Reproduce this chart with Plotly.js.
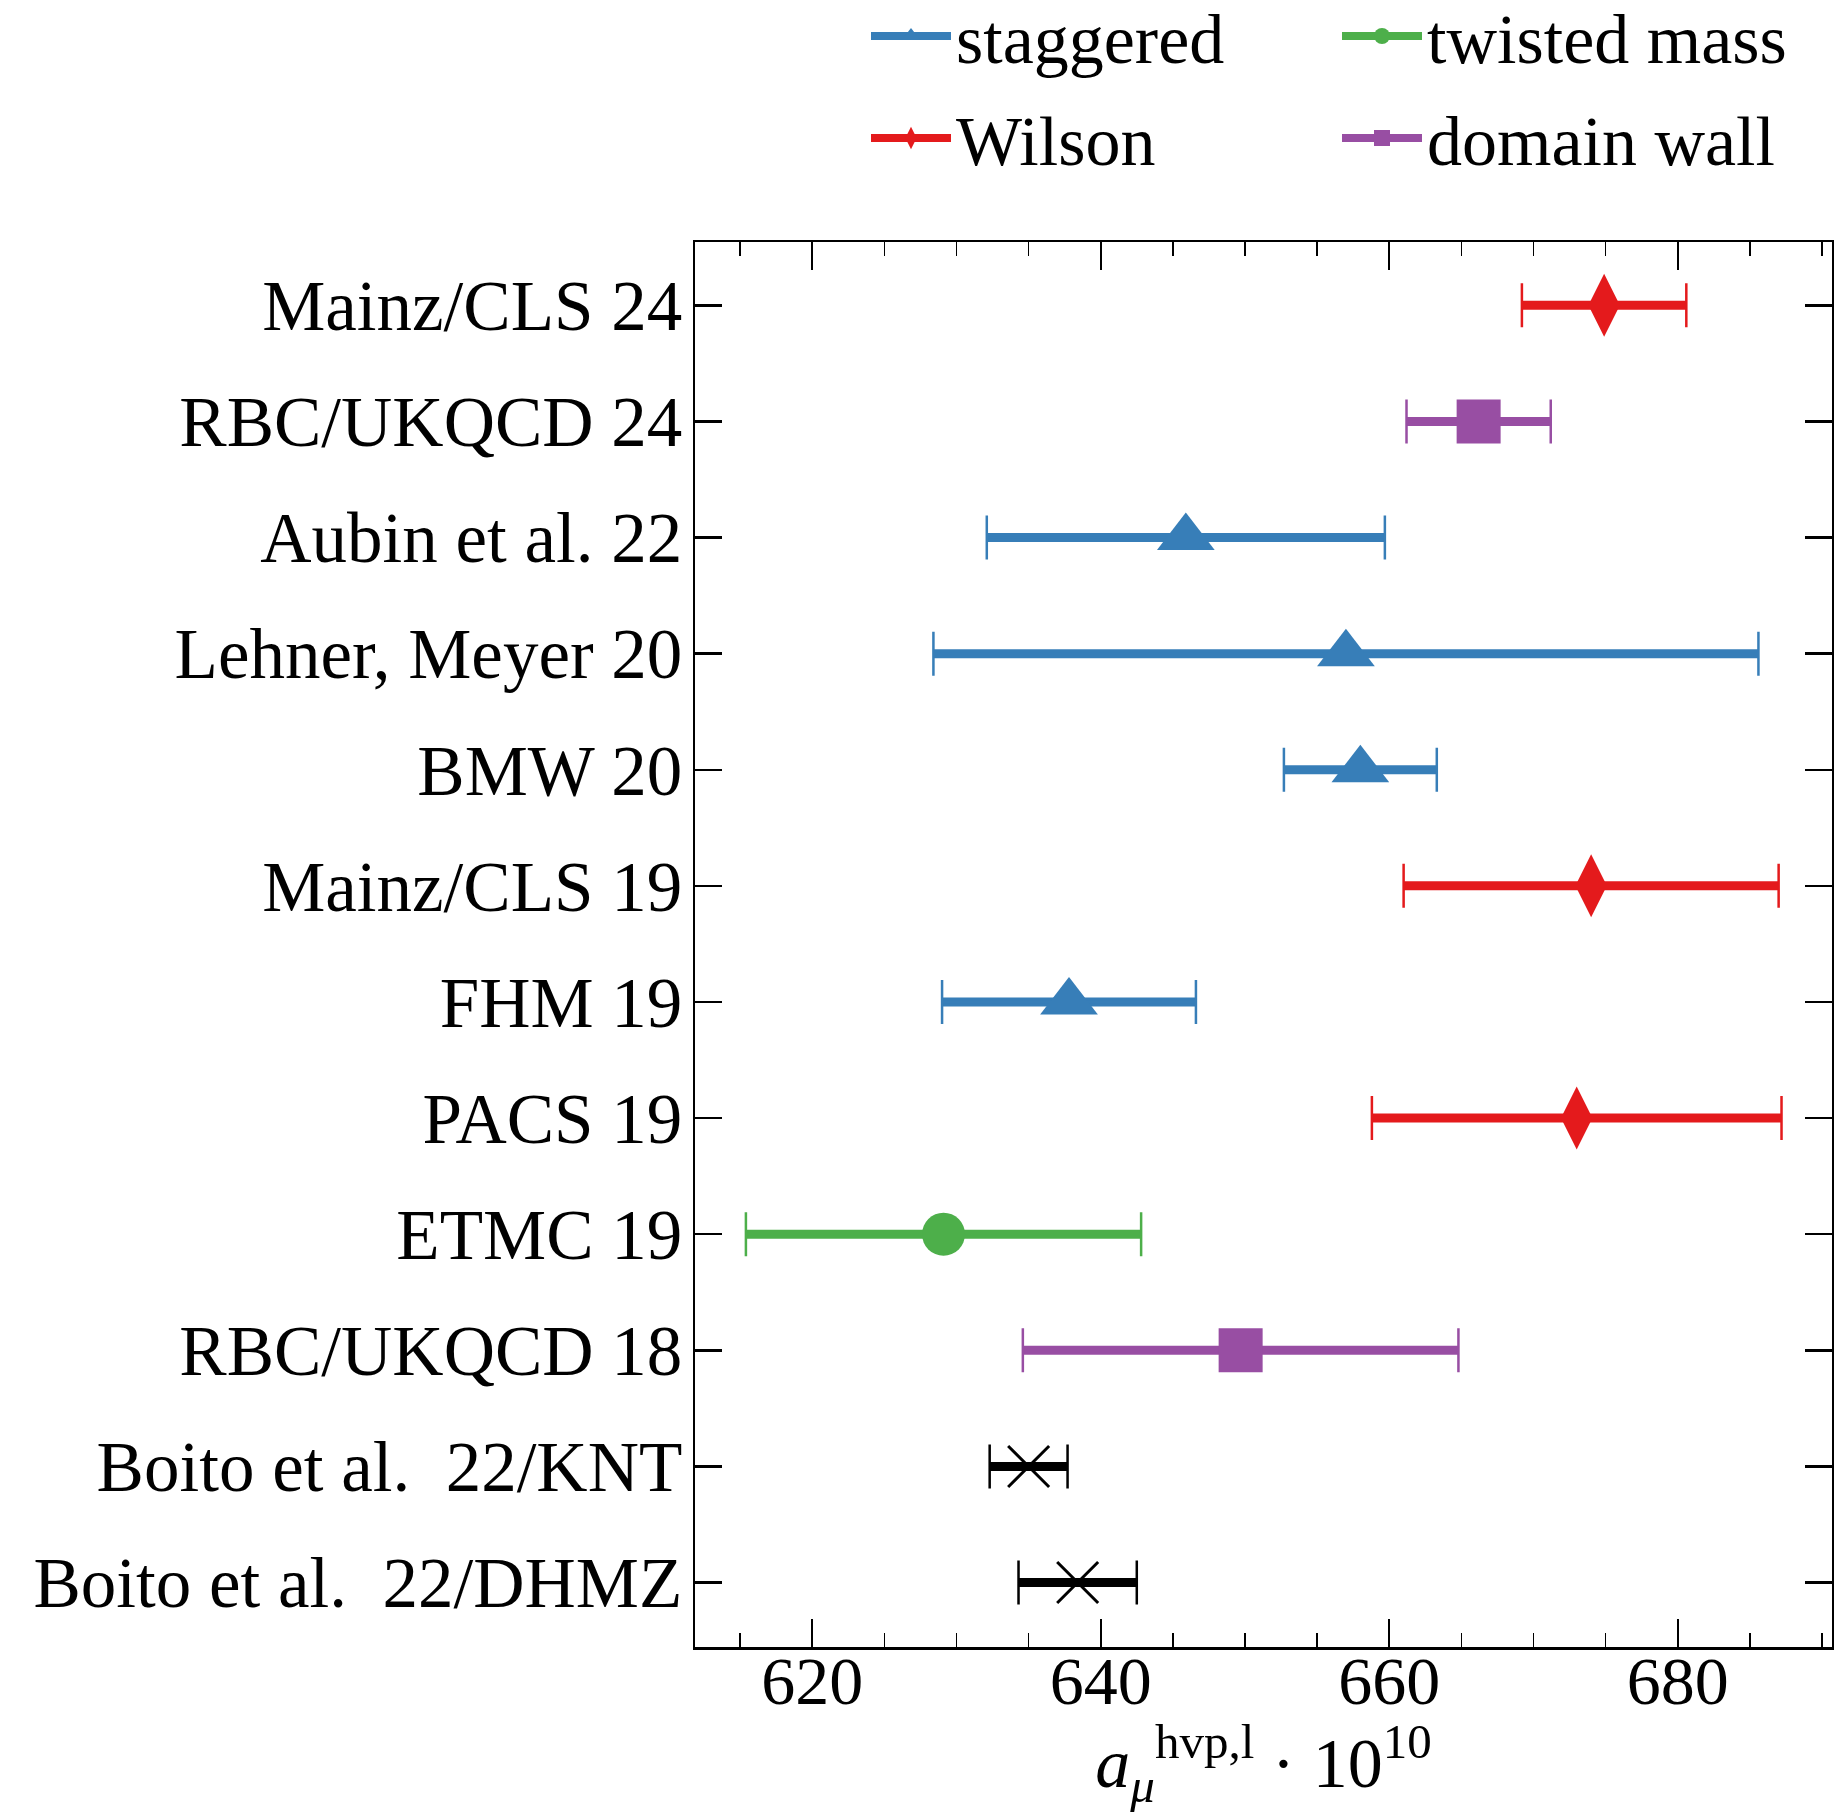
<!DOCTYPE html>
<html><head><meta charset="utf-8">
<script src="https://cdn.plot.ly/plotly-3.0.1.min.js"></script>
<style>body{margin:0;background:#fff}</style>
</head><body><div id="chart" style="width:1834px;height:1813px"></div>
<script>
// Data (top to bottom)
const labels = ["Mainz/CLS 24", "RBC/UKQCD 24", "Aubin et al. 22", "Lehner, Meyer 20", "BMW 20", "Mainz/CLS 19", "FHM 19", "PACS 19", "ETMC 19", "RBC/UKQCD 18", "Boito et al.\u00a0 22/KNT", "Boito et al.\u00a0 22/DHMZ"];
const values = [674.9, 666.2, 645.9, 657.0, 658.0, 674.0, 637.8, 673.0, 629.1, 649.7, 635.0, 638.4];
const errors = [5.7, 5.0, 13.8, 28.6, 5.3, 13.0, 8.8, 14.2, 13.7, 15.1, 2.7, 4.1];
const methods = ["Wilson", "domain wall", "staggered", "staggered", "staggered", "Wilson", "staggered", "Wilson", "twisted mass", "domain wall", "pheno", "pheno"];
const xTickVals = [620, 640, 660, 680];
const legend1Groups = ["staggered", "Wilson"];
const legend2Groups = ["twisted mass", "domain wall"];

const styles = {
  "staggered":    {color: "#377eb8", symbol: "triangle-up", size: 50, lw: 0},
  "Wilson":       {color: "#e41a1c", symbol: "diamond-tall", size: 45, lw: 0},
  "twisted mass": {color: "#4daf4a", symbol: "circle", size: 43, lw: 0},
  "domain wall":  {color: "#984ea3", symbol: "square", size: 44, lw: 0},
  "pheno":        {color: "#000000", symbol: "x-thin-open", size: 41, lw: 3}
};

const traces = [];
Object.keys(styles).forEach(function (m) {
  const st = styles[m];
  const idx = methods.map(function (v, i) { return v === m ? i : -1; }).filter(function (i) { return i >= 0; });
  const xs = idx.map(function (i) { return values[i]; });
  const ys = idx.map(function (i) { return labels[i]; });
  const es = idx.map(function (i) { return errors[i]; });
  // thick bar, no caps
  traces.push({
    type: "scatter", mode: "markers", x: xs, y: ys, showlegend: false, hoverinfo: "skip",
    marker: {size: 1, opacity: 0},
    error_x: {type: "data", array: es, visible: true, thickness: 9, width: 0, color: st.color}
  });
  // thin caps + marker
  traces.push({
    type: "scatter", mode: "markers", x: xs, y: ys, showlegend: false, name: m,
    marker: {symbol: st.symbol, size: st.size, color: st.color,
             line: {width: st.lw, color: st.color}},
    error_x: {type: "data", array: es, visible: true, thickness: 2.5, width: 22, color: st.color}
  });
});
// legend entries
legend1Groups.concat(legend2Groups).forEach(function (m) {
  const st = styles[m];
  traces.push({
    type: "scatter", mode: "lines+markers", x: [null], y: [null], name: m,
    legend: legend1Groups.indexOf(m) >= 0 ? "legend" : "legend2",
    legendgroup: m,
    line: {color: st.color, width: 8},
    marker: {symbol: st.symbol, size: 16, color: st.color}
  });
});

const axisCommon = {
  showline: true, linewidth: 2.5, linecolor: "black", mirror: "ticks",
  ticks: "inside", tickcolor: "black", showgrid: false, zeroline: false, automargin: true
};

const legendCommon = {
  xref: "container", yref: "paper", yanchor: "top", xanchor: "left",
  y: 1 + 258 / 1405, font: {size: 70, color: "black"}, bgcolor: "rgba(0,0,0,0)",
  borderwidth: 0, itemwidth: 80, orientation: "v", tracegroupgap: 8
};

const layout = {
  width: 1834, height: 1813,
  margin: {l: 695, r: 2, t: 242, b: 166, autoexpand: false},
  paper_bgcolor: "white", plot_bgcolor: "white",
  font: {family: "Liberation Serif, serif", size: 68, color: "black"},
  showlegend: true,
  xaxis: Object.assign({}, axisCommon, {
    range: [611.87, 690.7], tickmode: "array", tickvals: xTickVals,
    ticklen: 28, tickwidth: 2, tickangle: 0,
    minor: {tickmode: "linear", tick0: 0, dtick: 5, ticks: "inside", ticklen: 14, tickwidth: 1.5, tickcolor: "black", showgrid: false},
    ticklabelstandoff: -27,
    title: {text: "<i>a</i><sub><i>μ</i></sub><sup>hvp,l</sup> · 10<sup>10</sup>", standoff: 10, font: {size: 70}}
  }),
  yaxis: Object.assign({}, axisCommon, {
    type: "category", categoryorder: "array", categoryarray: labels.slice().reverse(),
    range: [-0.555, 11.545], ticklen: 27, tickwidth: 2.5, ticklabelstandoff: -4,
    tickfont: {size: 71}
  }),
  legend: Object.assign({}, legendCommon, {x: 866 / 1834}),
  legend2: Object.assign({}, legendCommon, {x: 1337 / 1834})
};

Plotly.newPlot("chart", traces, layout, {displayModeBar: false, staticPlot: true});
</script>
</body></html>
